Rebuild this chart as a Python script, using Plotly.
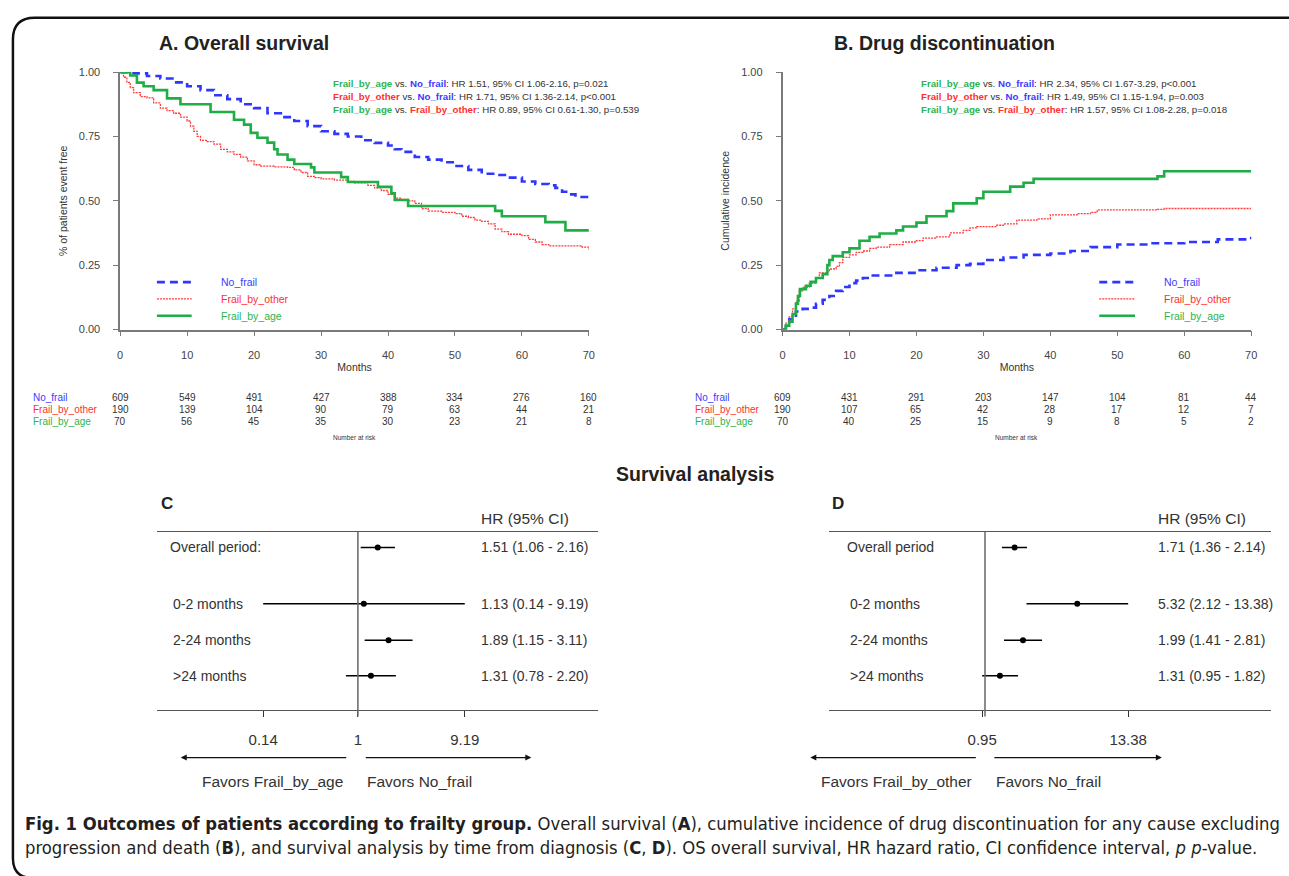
import plotly.graph_objects as go

W, H = 1289, 876


def px(x):
    return x / W


def py(y):
    return 1 - y / H


FONT = "Arial, Liberation Sans, sans-serif"
CAP_FONT = "Liberation Sans Narrow, DejaVu Sans Condensed, Arial Narrow, Liberation Sans, sans-serif"

groups = ["No_frail", "Frail_by_other", "Frail_by_age"]
line_col = {"No_frail": "#2f37ff", "Frail_by_other": "#ff3b3b", "Frail_by_age": "#1fae45"}
text_col = {"No_frail": "#3b3bff", "Frail_by_other": "#ff3030", "Frail_by_age": "#2db34f"}

# ---------------- Panel A: overall survival (KM estimates) ----------------
os_nofrail_t = [0, 2, 4, 6, 8, 10, 12, 14, 16, 18, 20, 22, 24, 26, 28, 30, 32, 34, 36, 38, 40, 41, 42,
                44, 46, 48, 50, 52, 54, 56, 58, 60, 62, 64, 65, 66, 67, 68, 70]
os_nofrail_s = [1.0, 0.995, 0.985, 0.975, 0.96, 0.945, 0.93, 0.91, 0.895, 0.875, 0.86, 0.84, 0.825,
                0.81, 0.79, 0.77, 0.76, 0.75, 0.735, 0.725, 0.715, 0.70, 0.69, 0.67, 0.66, 0.65, 0.635,
                0.62, 0.605, 0.60, 0.59, 0.575, 0.565, 0.56, 0.55, 0.535, 0.525, 0.515, 0.51]

os_other_t = [0, 0.5, 1, 1.5, 2, 3, 4, 5, 6, 7, 8, 9, 10, 10.5, 11, 11.5, 12, 13, 14, 15, 16, 17, 18,
              19, 20, 21, 23, 25, 26, 27, 28, 29, 30, 32, 34, 35, 37, 38, 39, 40, 41, 42, 43, 44, 45,
              46, 48, 50, 51, 52, 53, 54, 55, 56, 57, 58, 60, 61, 62, 63, 64, 66, 69, 70]
os_other_s = [1.0, 0.98, 0.96, 0.94, 0.92, 0.905, 0.90, 0.88, 0.86, 0.85, 0.84, 0.825, 0.81, 0.79,
              0.77, 0.75, 0.735, 0.73, 0.72, 0.70, 0.69, 0.68, 0.67, 0.655, 0.64, 0.635, 0.632, 0.63,
              0.62, 0.61, 0.595, 0.59, 0.585, 0.58, 0.575, 0.57, 0.56, 0.55, 0.54, 0.525, 0.51, 0.505,
              0.50, 0.49, 0.47, 0.46, 0.455, 0.45, 0.44, 0.435, 0.425, 0.42, 0.41, 0.39, 0.38, 0.37,
              0.365, 0.35, 0.34, 0.33, 0.325, 0.325, 0.32, 0.31]

os_age_t = [0, 1.5, 2.5, 3.5, 5, 7, 9, 13.5, 17, 18.5, 19.5, 20.5, 22, 23, 23.5, 25, 26, 28.5, 29, 33,
            34, 38.5, 40.5, 41, 43, 56, 57, 63.5, 66.5, 70]
os_age_s = [1.0, 0.987, 0.959, 0.945, 0.93, 0.898, 0.875, 0.845, 0.815, 0.796, 0.764, 0.745, 0.726,
            0.70, 0.68, 0.66, 0.643, 0.63, 0.61, 0.592, 0.573, 0.554, 0.529, 0.503, 0.48, 0.461, 0.44,
            0.417, 0.385, 0.385]

# ---------------- Panel B: drug discontinuation (cumulative incidence) ----------------
dd_nofrail_t = [0, 0.5, 1, 2, 3, 4, 5, 6, 7, 8, 9, 10, 11, 12, 13, 15, 17, 20, 23, 26, 28, 30, 33, 36,
                40, 43, 46, 50, 55, 60, 65, 70]
dd_nofrail_s = [0, 0.02, 0.04, 0.07, 0.08, 0.085, 0.10, 0.115, 0.13, 0.15, 0.165, 0.18, 0.19, 0.20,
                0.21, 0.21, 0.22, 0.23, 0.24, 0.25, 0.255, 0.27, 0.28, 0.29, 0.295, 0.305, 0.32, 0.33,
                0.335, 0.34, 0.35, 0.36]

dd_other_t = [0, 0.5, 1, 1.5, 2, 2.5, 3, 4, 5, 5.5, 6.5, 7, 8, 8.5, 9, 10, 11, 12, 13, 14, 16, 18, 20,
              21, 23, 25, 27, 28, 29, 32, 33, 35, 38, 40, 44, 46, 47, 56, 57, 70]
dd_other_s = [0, 0.025, 0.05, 0.08, 0.11, 0.15, 0.165, 0.18, 0.20, 0.22, 0.225, 0.235, 0.245, 0.26,
              0.28, 0.29, 0.30, 0.305, 0.315, 0.32, 0.33, 0.34, 0.345, 0.355, 0.36, 0.375, 0.385,
              0.395, 0.40, 0.405, 0.41, 0.425, 0.43, 0.445, 0.45, 0.455, 0.465, 0.467, 0.47, 0.47]

dd_age_t = [0, 0.5, 1, 1.5, 2, 2.3, 2.6, 3.5, 4.2, 5, 6, 6.7, 7, 7.5, 9, 10, 11.5, 13, 14.5, 17, 18,
            20, 21.5, 24.5, 25.5, 29, 30, 34, 36, 37.5, 56, 57, 70]
dd_age_s = [0, 0.015, 0.03, 0.06, 0.10, 0.13, 0.157, 0.17, 0.185, 0.20, 0.215, 0.25, 0.27, 0.285,
            0.30, 0.315, 0.345, 0.36, 0.373, 0.385, 0.40, 0.415, 0.44, 0.46, 0.49, 0.51, 0.535, 0.555,
            0.57, 0.585, 0.595, 0.615, 0.615]

# ---------------- Numbers at risk ----------------
risk_times = [0, 10, 20, 30, 40, 50, 60, 70]
os_risk = {
    "No_frail": [609, 549, 491, 427, 388, 334, 276, 160],
    "Frail_by_other": [190, 139, 104, 90, 79, 63, 44, 21],
    "Frail_by_age": [70, 56, 45, 35, 30, 23, 21, 8],
}
dd_risk = {
    "No_frail": [609, 431, 291, 203, 147, 104, 81, 44],
    "Frail_by_other": [190, 107, 65, 42, 28, 17, 12, 7],
    "Frail_by_age": [70, 40, 25, 15, 9, 8, 5, 2],
}

# ---------------- Pairwise HR annotations ----------------
cmp_a = ["Frail_by_age", "Frail_by_other", "Frail_by_age"]
cmp_b = ["No_frail", "No_frail", "Frail_by_other"]
os_cmp_hr = ["1.51", "1.71", "0.89"]
os_cmp_ci = ["1.06-2.16", "1.36-2.14", "0.61-1.30"]
os_cmp_p = ["p=0.021", "p<0.001", "p=0.539"]
dd_cmp_hr = ["2.34", "1.49", "1.57"]
dd_cmp_ci = ["1.67-3.29", "1.15-1.94", "1.08-2.28"]
dd_cmp_p = ["p<0.001", "p=0.003", "p=0.018"]

# ---------------- Forest plots ----------------
c_labels = ["Overall period:", "0-2 months", "2-24 months", ">24 months"]
c_hr = [1.51, 1.13, 1.89, 1.31]
c_lo = [1.06, 0.14, 1.15, 0.78]
c_hi = [2.16, 9.19, 3.11, 2.20]
c_ticks = [0.14, 1, 9.19]

d_labels = ["Overall period", "0-2 months", "2-24 months", ">24 months"]
d_hr = [1.71, 5.32, 1.99, 1.31]
d_lo = [1.36, 2.12, 1.41, 0.95]
d_hi = [2.14, 13.38, 2.81, 1.82]
d_ticks = [0.95, 13.38]

row_pos = [0, 1.56, 2.575, 3.56]  # layout row slots (overall row separated by a gap)

fig = go.Figure()

km_style = {
    "No_frail": dict(width=2.6, dash="8px,5px"),
    "Frail_by_other": dict(width=1.3, dash="2px,1px"),
    "Frail_by_age": dict(width=2.6, dash="solid"),
}
os_data = {"No_frail": (os_nofrail_t, os_nofrail_s), "Frail_by_other": (os_other_t, os_other_s),
           "Frail_by_age": (os_age_t, os_age_s)}
dd_data = {"No_frail": (dd_nofrail_t, dd_nofrail_s), "Frail_by_other": (dd_other_t, dd_other_s),
           "Frail_by_age": (dd_age_t, dd_age_s)}

for g in groups:
    t, s = os_data[g]
    fig.add_trace(go.Scatter(x=t, y=s, mode="lines", line_shape="hv", name=g, showlegend=False,
                             line=dict(color=line_col[g], **km_style[g]), xaxis="x", yaxis="y"))
for g in groups:
    t, s = dd_data[g]
    fig.add_trace(go.Scatter(x=t, y=s, mode="lines", line_shape="hv", name=g, showlegend=False,
                             line=dict(color=line_col[g], **km_style[g]), xaxis="x2", yaxis="y2"))


def forest(labels, hr, lo, hi, xa, ya):
    xs, ys = [], []
    for i in range(len(hr)):
        xs += [lo[i], hi[i], None]
        ys += [row_pos[i], row_pos[i], None]
    fig.add_trace(go.Scatter(x=xs, y=ys, mode="lines", line=dict(color="black", width=1.5),
                             showlegend=False, xaxis=xa, yaxis=ya, hoverinfo="skip"))
    fig.add_trace(go.Scatter(x=hr, y=row_pos, mode="markers", marker=dict(color="black", size=6),
                             showlegend=False, xaxis=xa, yaxis=ya, text=labels))


forest(c_labels, c_hr, c_lo, c_hi, "x3", "y3")
forest(d_labels, d_hr, d_lo, d_hi, "x4", "y4")

axis_col = "#7a7a7a"
tick_font = dict(family=FONT, size=11, color="#444")
km_x = dict(range=[0, 70], tickvals=risk_times, ticks="outside", ticklen=5, tickcolor=axis_col,
            showline=True, linecolor=axis_col, linewidth=1.5, showgrid=False, zeroline=False,
            tickfont=tick_font, ticklabelstandoff=10,
            title=dict(text="Months", font=dict(family=FONT, size=10.5, color="#333"), standoff=3))
km_y = dict(range=[0, 1], tickvals=[0, 0.25, 0.5, 0.75, 1], tickformat=".2f", ticks="outside",
            ticklen=5, tickcolor=axis_col, showline=True, linecolor=axis_col, linewidth=1.5,
            showgrid=False, zeroline=False, tickfont=tick_font, ticklabelstandoff=11)

ydom_km = [py(328), py(67)]
ydom_f = [py(714), py(533)]
f_yrange = [(714 - 549) / 36.5, (533 - 549) / 36.5]

fig.update_layout(
    width=W, height=H, margin=dict(l=0, r=0, t=0, b=0),
    paper_bgcolor="white", plot_bgcolor="white",
    font=dict(family=FONT, color="#333"),
    xaxis=dict(domain=[px(118), px(590)], anchor="y", **km_x),
    yaxis=dict(domain=ydom_km, anchor="x",
               title=dict(text="% of patients event free", font=dict(family=FONT, size=10.5, color="#333"),
                          standoff=9), **km_y),
    xaxis2=dict(domain=[px(785), px(1257)], anchor="y2", **km_x),
    yaxis2=dict(domain=ydom_km, anchor="x2",
                title=dict(text="Cumulative incidence", font=dict(family=FONT, size=10.5, color="#333"),
                           standoff=9), **km_y),
    xaxis3=dict(domain=[px(155), px(599)], anchor="y3", type="log", range=[-1.812, 2.163],
                tickvals=c_ticks, ticktext=[f"{v:g}" for v in c_ticks], ticks="outside", ticklen=6,
                tickcolor="#333", showline=True, mirror=True, linecolor="#555", linewidth=1.3,
                showgrid=False, zeroline=False, ticklabelstandoff=10,
                tickfont=dict(family=FONT, size=15, color="#333")),
    yaxis3=dict(domain=ydom_f, anchor="x3", range=f_yrange, visible=False),
    xaxis4=dict(domain=[px(832), px(1277)], anchor="y4", type="log", range=[-1.226, 2.251],
                tickvals=d_ticks, ticktext=[f"{v:g}" for v in d_ticks], ticks="outside", ticklen=6,
                tickcolor="#333", showline=True, mirror=True, linecolor="#555", linewidth=1.3,
                showgrid=False, zeroline=False, ticklabelstandoff=10,
                tickfont=dict(family=FONT, size=15, color="#333")),
    yaxis4=dict(domain=ydom_f, anchor="x4", range=f_yrange, visible=False),
)

ann = []
shapes = []


def text(x, y, s, size=10, color="#333", xanchor="left", bold=False, font=FONT, **kw):
    if bold:
        s = f"<b>{s}</b>"
    ann.append(dict(x=px(x), y=py(y), xref="paper", yref="paper", text=s, showarrow=False,
                    xanchor=xanchor, yanchor="middle", font=dict(family=font, size=size, color=color), **kw))


# Titles
text(155, 38, "A. Overall survival", size=19.5, color="#222", bold=True)
text(835, 38, "B. Drug discontinuation", size=19.5, color="#222", bold=True)
text(697, 475, "Survival analysis", size=19.5, color="#222", bold=True, xanchor="center")
text(157, 504, "C", size=17, color="#222", bold=True)
text(833, 504, "D", size=17, color="#222", bold=True)


def colored(g):
    return f"<b><span style='color:{text_col[g]}'>{g}</span></b>"


# pairwise HR text
for panel_x, hrs, cis, ps in [(330, os_cmp_hr, os_cmp_ci, os_cmp_p), (922, dd_cmp_hr, dd_cmp_ci, dd_cmp_p)]:
    for i in range(3):
        p = ps[i].replace("<", "&lt;")
        s = f"{colored(cmp_a[i])} vs. {colored(cmp_b[i])}: HR {hrs[i]}, 95% CI {cis[i]}, {p}"
        text(panel_x, 79 + 13 * i, s, size=9.7, color="#333")

# legends inside KM panels
km_dash_px = {"No_frail": "8px,5px", "Frail_by_other": "2px,1px", "Frail_by_age": "solid"}
for lx0, lx1, tx in [(155, 190, 218), (1104, 1140, 1167)]:
    for i, g in enumerate(groups):
        yy = 280 + 17 * i
        shapes.append(dict(type="line", xref="paper", yref="paper", x0=px(lx0), x1=px(lx1),
                           y0=py(yy), y1=py(yy),
                           line=dict(color=line_col[g], width=km_style[g]["width"], dash=km_dash_px[g])))
        text(tx, yy, g, size=10.5, color=text_col[g])

# numbers at risk
for xa, risk, lab_x, center in [("x", os_risk, 28, 354), ("x2", dd_risk, 695, 1021)]:
    for i, g in enumerate(groups):
        yy = 397 + 12 * i
        text(lab_x, yy, g, size=10, color=text_col[g])
        for t, n in zip(risk_times, risk[g]):
            ann.append(dict(x=t, y=py(yy), xref=xa, yref="paper", text=str(n), showarrow=False,
                            xanchor="center", yanchor="middle",
                            font=dict(family=FONT, size=10, color="#333")))
    text(center, 437, "Number at risk", size=6.5, color="#333", xanchor="center")

# forest plot text columns
for xa, ya, labels, hr, lo, hi, lab_x, val_x, hdr_x in [
    ("x3", "y3", c_labels, c_hr, c_lo, c_hi, 166, 479, 479),
    ("x4", "y4", d_labels, d_hr, d_lo, d_hi, 848, 1161, 1161),
]:
    for i in range(len(labels)):
        lx = lab_x if i == 0 else lab_x + 3
        ann.append(dict(x=px(lx), y=row_pos[i], xref="paper", yref=ya, text=labels[i], showarrow=False,
                        xanchor="left", yanchor="middle", font=dict(family=FONT, size=14, color="#333")))
        ann.append(dict(x=px(val_x), y=row_pos[i], xref="paper", yref=ya,
                        text=f"{hr[i]:.2f} ({lo[i]:.2f} - {hi[i]:.2f})", showarrow=False,
                        xanchor="left", yanchor="middle", font=dict(family=FONT, size=14, color="#333")))
    text(hdr_x, 520, "HR (95% CI)", size=15.5, color="#333")
    shapes.append(dict(type="line", xref=xa, yref=f"{ya} domain", x0=1, x1=1, y0=-0.035, y1=1,
                       line=dict(color="#666", width=1.5)))

# favour arrows
for head_l, tail_l, tail_r, head_r, lab_l, lab_r in [
    (179, 346, 365, 532, "Favors Frail_by_age", "Favors No_frail"),
    (813, 980, 998, 1167, "Favors Frail_by_other", "Favors No_frail"),
]:
    for head, tail in [(head_l, tail_l), (head_r, tail_r)]:
        ann.append(dict(x=px(head), y=py(762), xref="paper", yref="paper", ax=tail - head, ay=0,
                        text="", showarrow=True, arrowhead=2, arrowsize=1, arrowwidth=1.2,
                        arrowcolor="#111", standoff=0, startstandoff=0))
    text(tail_l - 2, 786, lab_l, size=15.5, color="#333", xanchor="right")
    text(tail_r, 786, lab_r, size=15.5, color="#333")

# caption
cap1 = ("<b>Fig. 1 Outcomes of patients according to frailty group.</b> Overall survival (<b>A</b>), "
        "cumulative incidence of drug discontinuation for any cause excluding")
cap2 = ("progression and death (<b>B</b>), and survival analysis by time from diagnosis (<b>C</b>, <b>D</b>). "
        "OS overall survival, HR hazard ratio, CI confidence interval, <i>p</i> <i>p</i>-value.")
text(20, 829, cap1, size=18.3, color="#231f20", font=CAP_FONT)
text(20, 853, cap2, size=18.3, color="#231f20", font=CAP_FONT)

# rounded frame around the figure (right and bottom edges run off the canvas)
frame = (f"M {px(1300)},{py(12)} L {px(32)},{py(12)} Q {px(10)},{py(12)} {px(10)},{py(34)} "
         f"L {px(10)},{py(864)} Q {px(10)},{py(884)} {px(30)},{py(884)} L {px(1300)},{py(884)}")
shapes.append(dict(type="path", xref="paper", yref="paper", path=frame, line=dict(color="#111", width=2.5)))

fig.update_layout(annotations=ann, shapes=shapes)
fig.write_html("out.html", config={"displayModeBar": False},
               post_script="document.body.style.margin='0';document.body.style.padding='0';")
